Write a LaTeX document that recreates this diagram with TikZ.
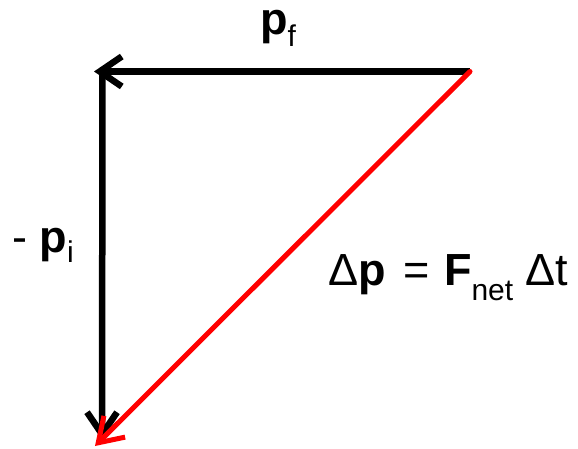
\documentclass[tikz,border=0pt]{standalone}
\usepackage{fontspec}
\setmainfont{Liberation Sans}
\usetikzlibrary{arrows.meta}
\newcommand{\subtxt}[2]{\raisebox{-#1pt}{\fontsize{30}{30}\selectfont #2}}
\begin{document}
\begin{tikzpicture}[x=1pt,y=-1pt,
  vec/.style={line width=6.5pt,-{Straight Barb[length=22pt,width=30pt,line width=6.5pt]}},
  redvec/.style={red,line width=5pt,-{Straight Barb[length=23pt,width=30pt,line width=5pt]}},
  lbl/.style={inner sep=0pt,font=\fontsize{45}{52}\selectfont}]
\useasboundingbox (0,0) rectangle (578,449);
\coordinate (A) at (470,71.5);
\coordinate (B) at (102.5,71.5);
\coordinate (Bt) at (94,71.5);
\coordinate (C) at (102,440);
\coordinate (D) at (95,446);
\draw[vec] (A) -- (Bt);
\draw[vec] (102.5,68.25) -- (C);
\draw[redvec,line cap=round] (A) -- (D);
\node[lbl,anchor=base west] (pf) at (260,35) {\textbf{p}\subtxt{12}{f}};
\node[lbl,anchor=base west] (pi) at (12,252) {- \textbf{p}\subtxt{10}{i}};
\node[lbl,anchor=base west] (eq) at (328,285) {Δ\textbf{p}\hspace{5pt} =\hspace{2pt} \textbf{F}\subtxt{15}{net} Δt};
\end{tikzpicture}
\end{document}
